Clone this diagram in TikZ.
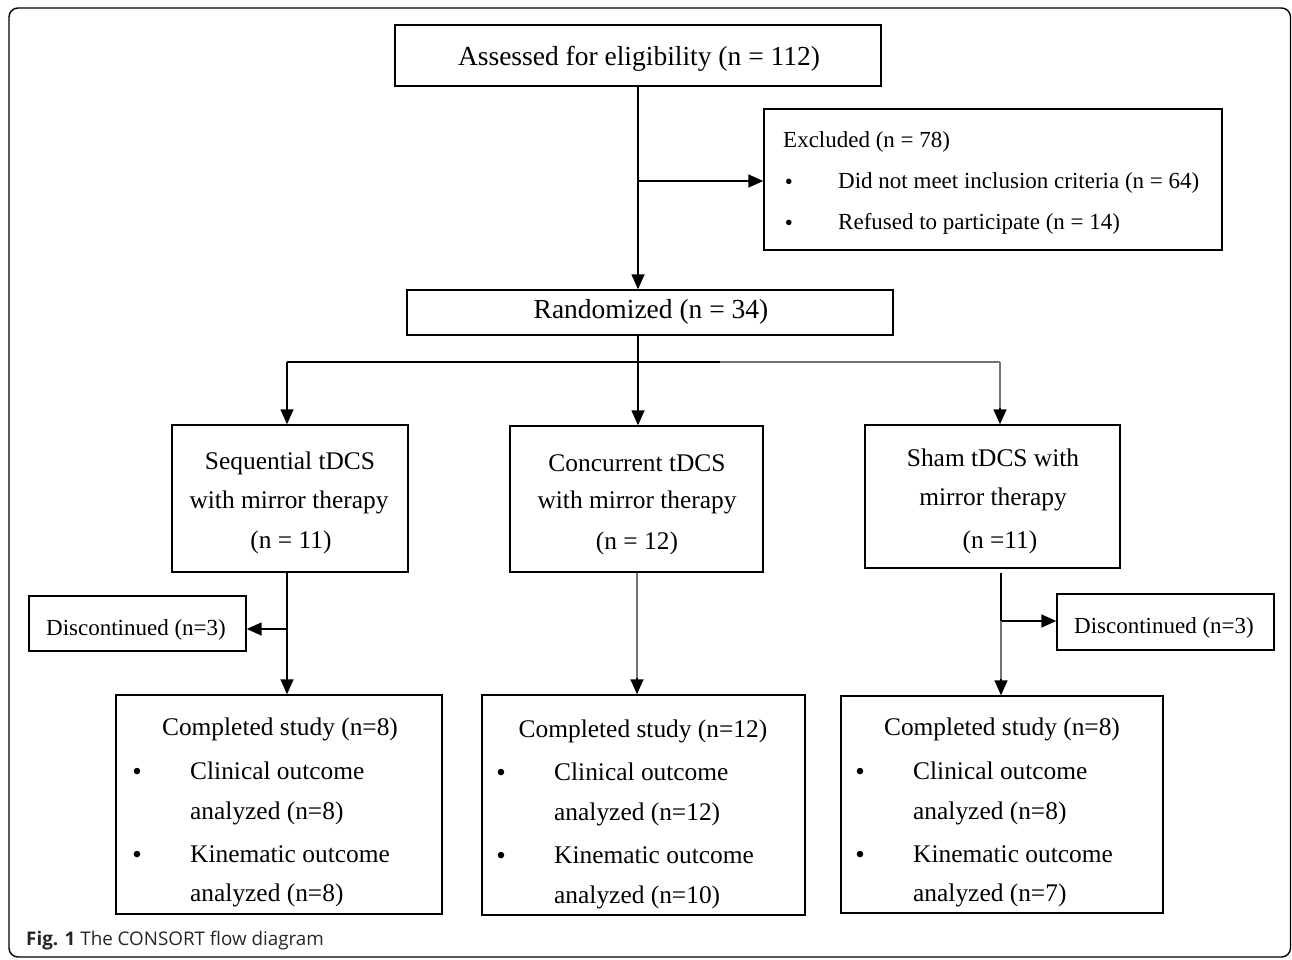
\documentclass[tikz,border=0pt]{standalone}
\usepackage{fontspec}
\setmainfont{Liberation Serif}
\newfontfamily\capfont{Open Sans}
\usetikzlibrary{arrows.meta,calc}
\tikzset{
  box/.style={draw, line width=1.4pt, inner sep=0pt},
  big/.style={font=\fontsize{25.4}{30}\selectfont, inner sep=0pt, yshift=-2pt},
  huge/.style={font=\fontsize{27.5}{32}\selectfont, inner sep=0pt, yshift=-1.5pt},
  small/.style={font=\fontsize{23}{27}\selectfont, inner sep=0pt, yshift=-1.5pt},
  bul/.style={font=\fontsize{27}{30}\selectfont, inner sep=0pt, yshift=-4pt},
  conn/.style={line width=1.5pt, draw=black},
  arr/.style={conn, -{Triangle[length=15pt,width=13pt]}},
  greyconn/.style={line width=1.5pt, draw=black!55},
}
\newcommand{\mkbox}[5]{\node[box, minimum width={#4-#2}, minimum height={#5-#3}] (#1) at ({(#2+#4)/2},{(#3+#5)/2}) {};}
\begin{document}
\begin{tikzpicture}[x=1pt,y=-1pt]
\useasboundingbox (0,0) rectangle (1292,960);
\draw[line width=1.4pt, rounded corners=9pt] (9,8) rectangle (1290.5,957);

% boxes
\mkbox{assess}{395}{25}{881}{86}
\mkbox{excl}{764}{109}{1222}{250}
\mkbox{rand}{407}{290}{893}{335}
\mkbox{seq}{172}{425}{408}{572}
\mkbox{conc}{510}{426}{763}{572}
\mkbox{sham}{865}{425}{1120}{568}
\mkbox{discL}{29}{596}{246}{651}
\mkbox{discR}{1057}{594}{1274}{650}
\mkbox{compL}{116}{695}{442}{914}
\mkbox{compM}{482}{695}{805}{915}
\mkbox{compR}{841}{696}{1163}{913}

% texts
\node[huge] (tA) at (639,57) {Assessed for eligibility (n = 112)};
\node[small, anchor=west] (tE1) at (783,140) {Excluded (n = 78)};
\node[small] (tE2b) at (789,183) {•};
\node[small, anchor=west] (tE2) at (838,181) {Did not meet inclusion criteria (n = 64)};
\node[small] (tE3b) at (789,224) {•};
\node[small, anchor=west] (tE3) at (838,222) {Refused to participate (n = 14)};
\node[huge] (tR) at (651,310) {Randomized (n = 34)};

\node[big] (tS1) at (290,461) {Sequential tDCS};
\node[big] (tS2) at (289,500) {with mirror therapy};
\node[big] (tS3) at (291,540) {(n = 11)};
\node[big] (tC1) at (637,461) {Concurrent tDCS};
\node[big] (tC2) at (637,500) {with mirror therapy};
\node[big] (tC3) at (637,541) {(n = 12)};
\node[big] (tH1) at (993,456) {Sham tDCS with};
\node[big] (tH2) at (993,497) {mirror therapy};
\node[big] (tH3) at (1000,540) {(n =11)};

\node[small] (tDL) at (136,628) {Discontinued (n=3)};
\node[small] (tDR) at (1164,626) {Discontinued (n=3)};

% completed boxes
\node[big] (tL0) at (280,727) {Completed study (n=8)};
\node[bul] (tL1b) at (137,770) {•};
\node[big, anchor=west] (tL1) at (190,769) {Clinical outcome};
\node[big, anchor=west] (tL2) at (190,811) {analyzed (n=8)};
\node[bul] (tL3b) at (137,853) {•};
\node[big, anchor=west] (tL3) at (190,852) {Kinematic outcome};
\node[big, anchor=west] (tL4) at (190,893) {analyzed (n=8)};

\node[big] (tM0) at (643,729) {Completed study (n=12)};
\node[bul] (tM1b) at (501,771) {•};
\node[big, anchor=west] (tM1) at (554,770) {Clinical outcome};
\node[big, anchor=west] (tM2) at (554,812) {analyzed (n=12)};
\node[bul] (tM3b) at (501,854) {•};
\node[big, anchor=west] (tM3) at (554,853) {Kinematic outcome};
\node[big, anchor=west] (tM4) at (554,895) {analyzed (n=10)};

\node[big] (tR0) at (1002,727) {Completed study (n=8)};
\node[bul] (tR1b) at (860,770) {•};
\node[big, anchor=west] (tR1) at (913,769) {Clinical outcome};
\node[big, anchor=west] (tR2) at (913,811) {analyzed (n=8)};
\node[bul] (tR3b) at (860,853) {•};
\node[big, anchor=west] (tR3) at (913,852) {Kinematic outcome};
\node[big, anchor=west] (tR4) at (913,893) {analyzed (n=7)};

% caption
\node[anchor=west, inner sep=0pt, font=\capfont\fontsize{18.8}{22}\selectfont, text=black!85] (cap) at (26,941) {\textbf{Fig. 1} The CONSORT flow diagram};

% coordinates
\coordinate (xMain) at (638,181);
\coordinate (split) at (638,362);
\coordinate (splitG) at (720,362);
\coordinate (xL) at (287,629);
\coordinate (xS) at (1000,362);
\coordinate (xR) at (1001,621);
\coordinate (xC) at (637,0);

% connectors
\draw[conn] (assess.south -| xMain) -- (xMain);
\draw[arr] (xMain) -- (rand.north -| xMain);
\draw[arr] (xMain) -- (excl.west |- xMain);

\draw[arr] (rand.south -| split) -- (conc.north -| split);
\draw[conn] (split -| xL) -- (splitG);
\draw[greyconn] (splitG) -- (xS);
\draw[arr] (split -| xL) -- (seq.north -| xL);
\draw[greyconn] (xS) -- ($(sham.north -| xS)+(0,-15)$);
\draw[arr] ($(sham.north -| xS)+(0,-16)$) -- (sham.north -| xS);

\draw[conn] (seq.south -| xL) -- (xL);
\draw[arr] (xL) -- (discL.east |- xL);
\draw[arr] (xL) -- (compL.north -| xL);

\draw[greyconn] (conc.south -| xC) -- ($(compM.north -| xC)+(0,-15)$);
\draw[arr] ($(compM.north -| xC)+(0,-16)$) -- (compM.north -| xC);

\draw[conn] ($(sham.south -| xR)+(0,4)$) -- (xR);
\draw[arr] (xR) -- (discR.west |- xR);
\draw[greyconn] (xR) -- ($(compR.north -| xR)+(0,-15)$);
\draw[arr] ($(compR.north -| xR)+(0,-16)$) -- (compR.north -| xR);
\end{tikzpicture}
\end{document}
